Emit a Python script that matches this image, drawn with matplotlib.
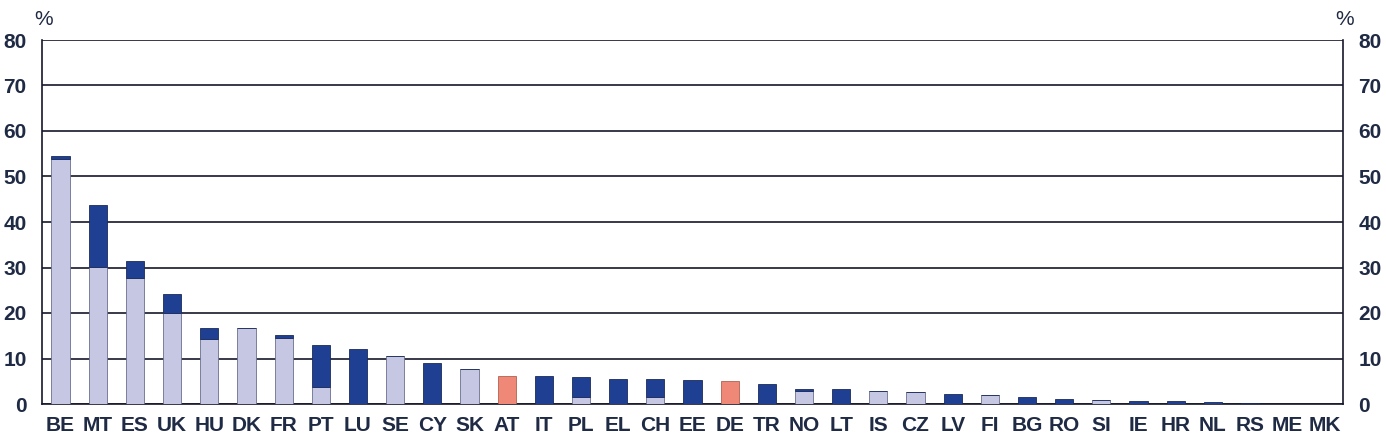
import numpy as np
import matplotlib
matplotlib.use("Agg")
import matplotlib.pyplot as plt
from matplotlib import font_manager

# Data (%)
countries = ["BE", "MT", "ES", "UK", "HU", "DK", "FR", "PT", "LU", "SE", "CY", "SK",
             "AT", "IT", "PL", "EL", "CH", "EE", "DE", "TR", "NO", "LT", "IS", "CZ",
             "LV", "FI", "BG", "RO", "SI", "IE", "HR", "NL", "RS", "ME", "MK"]
light = [53.8, 30.2, 27.8, 19.9, 14.2, 16.6, 14.5, 3.7, 0.0, 10.5, 0.0, 7.8,
         0.0, 0.0, 1.6, 0.0, 1.5, 0.0, 0.0, 0.0, 2.9, 0.0, 2.9, 2.6,
         0.0, 1.9, 0.0, 0.0, 0.9, 0.0, 0.0, 0.0, 0.0, 0.0, 0.0]
dark = [0.7, 13.6, 3.6, 4.3, 2.6, 0.0, 0.6, 9.3, 12.1, 0.0, 9.0, 0.0,
        0.0, 6.1, 4.3, 5.6, 4.1, 5.3, 0.0, 4.3, 0.4, 3.2, 0.0, 0.0,
        2.2, 0.0, 1.5, 1.1, 0.0, 0.7, 0.7, 0.5, 0.3, 0.0, 0.0]
highlight = [0.0] * 12 + [6.2] + [0.0] * 5 + [5.1] + [0.0] * 16
yticks = [0, 10, 20, 30, 40, 50, 60, 70, 80]

LIGHT = "#c5c7e3"
DARK = "#1f3f93"
SALMON = "#f08878"
TEXT = "#1f2a44"

installed = {f.name for f in font_manager.fontManager.ttflist}
family = "Liberation Sans Narrow" if "Liberation Sans Narrow" in installed else "Liberation Sans"
plt.rcParams["font.family"] = [family, "DejaVu Sans"]

fig = plt.figure(figsize=(13.86, 4.4), dpi=100)
ax = fig.add_axes([42 / 1386, 36 / 440, (1343 - 42) / 1386, 364 / 440])

x = np.arange(len(countries))
w = 0.49
ax.bar(x, light, w, color=LIGHT, edgecolor="#6a6f8f", linewidth=0.6, zorder=3)
ax.bar(x, dark, w, bottom=light, color=DARK, edgecolor="#1a2a5a", linewidth=0.6, zorder=3)
ax.bar(x, highlight, w, color=SALMON, edgecolor="#b06050", linewidth=0.6, zorder=3)

ax.set_xlim(-0.5, len(countries) - 0.5)
ax.set_ylim(0, 80)
ax.set_yticks(yticks)
ax.yaxis.grid(True, color="#15182a", linewidth=1.2, zorder=1)
ax.set_axisbelow(True)

ax.set_xticks(x)
ax.set_xticklabels(countries)
ax.tick_params(axis="x", length=0, pad=8.5, labelsize=15, colors=TEXT)
ax.tick_params(axis="y", length=0, pad=11, labelsize=15, colors=TEXT,
               left=True, right=True, labelleft=True, labelright=True)
for lbl in ax.get_xticklabels() + ax.get_yticklabels():
    lbl.set_fontweight("bold")
    lbl.set_color(TEXT)

for side in ["left", "right", "bottom"]:
    ax.spines[side].set_color("#15182a")
    ax.spines[side].set_linewidth(1.2)
ax.spines["top"].set_visible(False)

for xa in (0.0015, 1.0015):
    ax.text(xa, 1 + 15 / 364, "%", transform=ax.transAxes, ha="center",
            va="baseline", fontsize=15, color=TEXT)

fig.savefig("out.png", dpi=100)
